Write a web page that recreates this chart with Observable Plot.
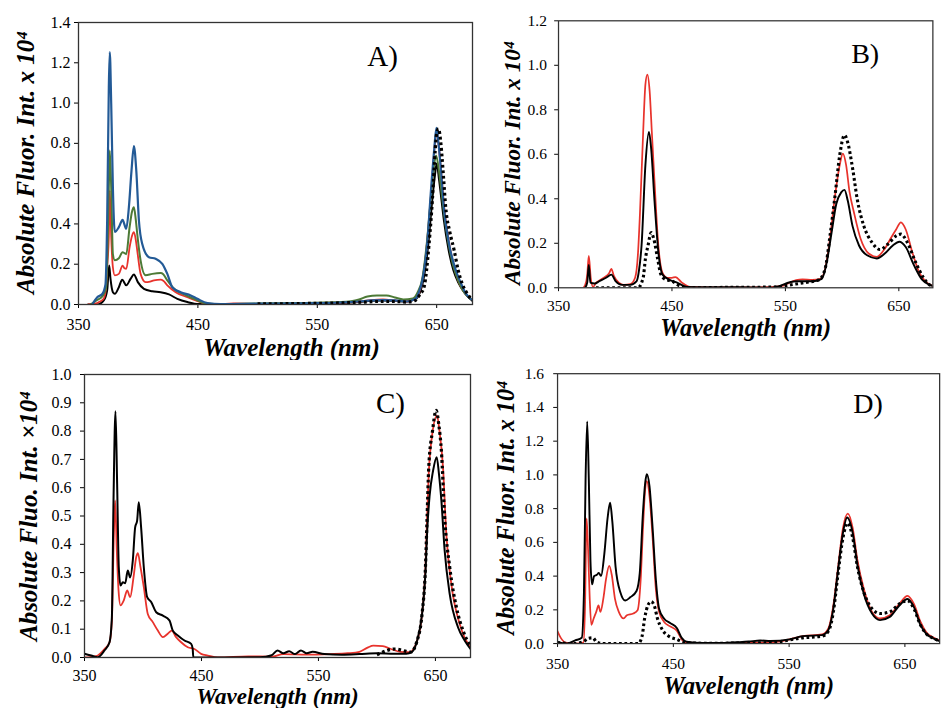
<!DOCTYPE html>
<html><head><meta charset="utf-8">
<script src="https://cdn.jsdelivr.net/npm/d3@7"></script>
<script src="https://cdn.jsdelivr.net/npm/@observablehq/plot@0.6"></script>
<style>
html,body{margin:0;padding:0;background:#fff;overflow:hidden;}
#wrap{position:relative;width:944px;height:708px;overflow:hidden;background:#fff;}
.panel{position:absolute;}
</style></head><body><div id="wrap"></div>
<script>
// ---------- tick values ----------
const xTicks = [350, 450, 550, 650];
const aYTicks = [0, 0.2, 0.4, 0.6, 0.8, 1.0, 1.2, 1.4];
const bYTicks = [0, 0.2, 0.4, 0.6, 0.8, 1.0, 1.2];
const cYTicks = [0, 0.1, 0.2, 0.3, 0.4, 0.5, 0.6, 0.7, 0.8, 0.9, 1.0];
const dYTicks = [0, 0.2, 0.4, 0.6, 0.8, 1.0, 1.2, 1.4, 1.6];

// ---------- Panel A: [wavelength nm, intensity x1e4] ----------
const aBlack = [[358,0],[365.7,0],[371.2,0.02],[374,0.07],[375.7,0.193],[376.8,0.127],[378.8,0.061],[380.4,0.053],[383.8,0.086],[386.6,0.123],[390,0.095],[393.6,0.127],[396.4,0.149],[399.7,0.111],[404.8,0.078],[411.8,0.066],[418.8,0.061],[425.8,0.05],[432.8,0.028],[441.2,0.012],[451,0.002],[470,0.003],[500,0.003],[540,0.006],[570,0.008],[585,0.012],[595,0.018],[605,0.02],[615,0.018],[625,0.015],[632,0.025],[636,0.06],[640,0.16],[643,0.3],[646,0.5],[648.5,0.64],[650,0.70],[652,0.62],[654,0.52],[656,0.42],[660,0.27],[664,0.17],[668,0.11],[672,0.07],[676,0.04],[680,0.02]];
const aRed = [[358,0],[363,0.003],[368,0.015],[371.2,0.03],[373,0.08],[374.2,0.2],[375.4,0.335],[376.2,0.566],[377.4,0.335],[378.8,0.185],[380.4,0.145],[383.8,0.152],[386.9,0.193],[388.5,0.18],[390,0.177],[392.8,0.284],[394.8,0.34],[396.4,0.359],[398,0.32],[399.2,0.268],[402,0.152],[406.2,0.111],[409,0.112],[413.2,0.12],[418.8,0.123],[421,0.118],[424.4,0.095],[431.4,0.061],[441.2,0.036],[449.6,0.017],[458,0.003],[466,0.002],[480,0.005],[500,0.003],[540,0.006],[570,0.01],[585,0.015],[595,0.022],[605,0.025],[615,0.02],[625,0.015],[632,0.03],[636,0.07],[640,0.2],[643,0.38],[646,0.6],[648.5,0.8],[650,0.86],[652,0.77],[654,0.64],[656,0.5],[660,0.32],[664,0.2],[668,0.12],[672,0.07],[676,0.04],[680,0.02]];
const aGreen = [[360,0],[365,0.02],[370,0.04],[373,0.08],[374.2,0.25],[375.4,0.58],[376.2,0.764],[377.4,0.58],[378.8,0.25],[380.4,0.22],[383.8,0.23],[386.9,0.26],[388.5,0.255],[390,0.25],[392.8,0.384],[394.8,0.46],[396.4,0.483],[398,0.42],[399.2,0.351],[402,0.219],[406.2,0.145],[411.8,0.152],[418.8,0.156],[421,0.15],[424.4,0.12],[430,0.078],[438.4,0.05],[446.8,0.028],[455.2,0.007],[463.6,0.002],[500,0.005],[540,0.008],[570,0.012],[585,0.025],[592,0.04],[600,0.045],[608,0.045],[615,0.035],[622,0.025],[630,0.03],[634,0.06],[638,0.13],[642,0.32],[645,0.52],[648,0.7],[649.5,0.74],[652,0.66],[654,0.56],[656,0.46],[660,0.3],[664,0.19],[668,0.12],[672,0.07],[676,0.04],[680,0.02]];
const aBlue = [[361.5,0],[365.7,0.036],[369.9,0.052],[372.6,0.1],[374,0.417],[375.4,1.08],[376.2,1.253],[377.4,0.996],[378.8,0.58],[380.4,0.36],[383.8,0.384],[386.9,0.42],[390,0.376],[392.2,0.483],[394.4,0.665],[396.4,0.786],[398.4,0.665],[400.6,0.417],[403.4,0.3],[409,0.235],[414.6,0.227],[420.2,0.202],[424.4,0.152],[428.6,0.086],[435.6,0.061],[444,0.045],[449.6,0.028],[458,0.007],[469,0.002],[500,0.004],[540,0.006],[570,0.01],[585,0.015],[595,0.02],[605,0.022],[615,0.02],[625,0.015],[632.5,0.03],[635,0.06],[638,0.12],[642.3,0.32],[645,0.55],[647.8,0.76],[649.8,0.877],[651.5,0.8],[653.4,0.68],[656.2,0.47],[660.4,0.3],[666,0.17],[670,0.11],[674.4,0.055],[680,0.02]];
const aDotted = [[500,0.003],[540,0.005],[570,0.008],[590,0.012],[600,0.015],[615,0.015],[625,0.012],[632,0.02],[636,0.05],[639.4,0.086],[643.6,0.3],[646.4,0.52],[648.7,0.76],[650,0.85],[651.5,0.872],[653.5,0.8],[655.5,0.65],[657.6,0.48],[661,0.36],[664.6,0.27],[668,0.17],[671.6,0.1],[676,0.05],[680,0.02]];

// ---------- Panel B ----------
const bRed = [[372,0],[374.5,0.03],[375.3,0.059],[376.7,0.143],[378.4,0.045],[380.4,0.004],[383.2,0.023],[387.5,0.037],[391.9,0.052],[394.7,0.066],[396.6,0.085],[398.9,0.052],[403.2,0.023],[407.5,0.013],[413.2,0.016],[417.5,0.045],[420,0.15],[421.8,0.335],[424.6,0.697],[426.6,0.914],[428.3,0.958],[430.3,0.886],[432.3,0.697],[434.6,0.48],[438,0.19],[441.7,0.067],[446,0.045],[450,0.045],[453.1,0.048],[458.8,0.023],[465.9,0.004],[480,0.002],[510,0.002],[536.7,0.003],[548.1,0.01],[559.5,0.035],[565.1,0.038],[573.6,0.035],[580.8,0.04],[585,0.085],[589.3,0.22],[593.6,0.407],[597.9,0.552],[600.7,0.603],[603.5,0.552],[606.4,0.436],[610.6,0.335],[616.3,0.22],[623.4,0.154],[630.5,0.139],[637.6,0.175],[643.3,0.226],[647.6,0.262],[651.8,0.294],[656.1,0.262],[661.8,0.161],[667.5,0.074],[673.2,0.03],[680,0.008]];
const bBlack = [[373.4,0],[375.3,0.023],[376.7,0.103],[378.1,0.023],[381.8,0.019],[386.1,0.03],[391.9,0.045],[396.6,0.059],[400.3,0.03],[406,0.013],[413.2,0.013],[418.9,0.03],[421,0.08],[423.2,0.19],[426.6,0.552],[429.7,0.7],[431.7,0.624],[434.6,0.393],[438,0.161],[441.7,0.059],[447.4,0.037],[454.5,0.023],[463.1,0.004],[480,0.002],[510,0.002],[536.7,0],[559.5,0.029],[573.6,0.029],[582.1,0.04],[586.4,0.113],[590.7,0.248],[594.9,0.378],[599.2,0.429],[602.1,0.44],[604.9,0.393],[609.2,0.277],[614.9,0.19],[622,0.146],[630.5,0.132],[637.6,0.154],[644.7,0.19],[650.4,0.207],[656.1,0.183],[663.2,0.103],[670.3,0.038],[676.6,0.015],[680,0.008]];
const bDotted = [[383,0],[420,0],[424.6,0.045],[426.6,0.13],[428.9,0.19],[431.7,0.248],[434,0.219],[437.4,0.13],[440.3,0.059],[444.5,0.037],[450.2,0.03],[457.4,0.007],[465.9,0],[500,0.002],[536.7,0.003],[565.1,0.022],[579.3,0.035],[585,0.085],[589.3,0.233],[593.6,0.407],[597.9,0.596],[602.1,0.686],[604.9,0.654],[609.2,0.538],[613.5,0.393],[619.2,0.277],[626.3,0.204],[633.4,0.172],[640.5,0.197],[647.6,0.233],[651.8,0.241],[657.5,0.204],[664.6,0.117],[671.7,0.045],[676.6,0.015],[680,0.008]];

// ---------- Panel C ----------
const cBlack = [[350,0.013],[355.7,0.007],[361.4,0.001],[367.1,0.025],[371.4,0.054],[373.4,0.142],[374.8,0.555],[376.5,0.87],[377.9,0.614],[379.3,0.32],[380.8,0.254],[382.8,0.266],[384.8,0.262],[387,0.307],[389,0.283],[391.3,0.343],[393.3,0.46],[395,0.484],[396.4,0.549],[398.4,0.46],[400.7,0.319],[403.6,0.213],[407,0.196],[411.3,0.16],[417,0.148],[422.6,0.131],[425.5,0.095],[429.8,0.078],[435.5,0.06],[441.2,0.048],[442.5,0.03],[443,0.001],[470,0],[500,0.001],[510,0.008],[515,0.025],[520,0.015],[525,0.022],[530,0.012],[535,0.025],[540,0.015],[545,0.02],[555,0.012],[570,0.01],[585,0.012],[600,0.015],[615,0.013],[625,0.013],[630,0.02],[634.4,0.06],[638.6,0.154],[641.5,0.3],[643,0.45],[645,0.57],[648,0.66],[651.1,0.708],[653,0.65],[655.1,0.555],[657.9,0.378],[662.2,0.225],[669.3,0.107],[675,0.06],[680,0.03]];
const cRed = [[350,0],[360,0.005],[367.1,0.03],[371.4,0.054],[373.4,0.13],[375.1,0.437],[376.2,0.555],[377.6,0.378],[379.1,0.237],[380.8,0.184],[383.6,0.202],[386.5,0.237],[389,0.213],[391.9,0.283],[394.2,0.354],[395.6,0.369],[397.9,0.319],[400.7,0.249],[404.1,0.154],[408.4,0.125],[412.7,0.095],[417,0.072],[421.2,0.084],[424.6,0.095],[428.3,0.072],[432.6,0.054],[438.3,0.036],[444,0.03],[449.7,0.013],[455.4,0.007],[464,0],[490,0.004],[510,0.003],[520,0.012],[540,0.01],[560,0.012],[575,0.015],[585,0.02],[592,0.035],[597,0.042],[605,0.04],[612,0.03],[620,0.02],[628,0.019],[634.4,0.06],[638.6,0.154],[641.5,0.32],[642.9,0.496],[644.3,0.65],[647,0.78],[651.4,0.855],[653.5,0.8],[656.5,0.672],[659.3,0.437],[663.6,0.26],[670.7,0.119],[675,0.07],[680,0.037]];
const cDotted = [[600,0.01],[615.8,0.03],[622,0.025],[628.7,0.019],[634.4,0.06],[638.6,0.154],[641.5,0.32],[642.9,0.496],[644.3,0.672],[647.5,0.8],[650.6,0.873],[653,0.82],[655.1,0.731],[657.9,0.496],[662.2,0.32],[667.9,0.178],[673.6,0.095],[680,0.04]];

// ---------- Panel D ----------
const dBlack = [[350,0.006],[358.4,0],[365.3,0.019],[370.9,0.034],[372.8,0.302],[374.2,0.972],[375.6,1.317],[377,0.972],[378.4,0.494],[379.8,0.351],[381.5,0.399],[384,0.408],[385.6,0.418],[387.6,0.402],[390.4,0.532],[393.2,0.743],[395.4,0.835],[397.3,0.724],[400.1,0.456],[404.3,0.303],[408.5,0.255],[412.7,0.274],[418.2,0.312],[421,0.418],[423.8,0.781],[425.7,0.953],[427.1,1.004],[429.4,0.934],[432.1,0.685],[434.9,0.379],[437.7,0.207],[441.9,0.149],[447.5,0.121],[453,0.092],[457.2,0.034],[461.4,0.011],[472.5,0.004],[490,0.003],[505,0.008],[515,0.012],[525,0.018],[533.8,0.015],[550.5,0.025],[561.7,0.044],[578.4,0.05],[584,0.082],[588.2,0.207],[592.3,0.436],[596.5,0.656],[600.1,0.747],[604.9,0.656],[609,0.465],[614.6,0.293],[621.6,0.178],[628.5,0.139],[636.9,0.158],[645.2,0.226],[652.2,0.264],[657.8,0.216],[663.4,0.111],[669,0.054],[675,0.03],[680,0.015]];
const dRed = [[350,0.073],[352.8,0.034],[357,0.006],[365.3,0],[372.3,0.006],[373.7,0.207],[375.1,0.743],[376.5,0.532],[377.8,0.265],[379.2,0.111],[381.2,0.149],[383.4,0.188],[385.4,0.226],[387,0.188],[389.5,0.265],[391.8,0.379],[394.6,0.46],[396.8,0.408],[399.6,0.265],[402.9,0.188],[407.1,0.149],[409.9,0.168],[415.4,0.178],[419.1,0.197],[421.8,0.379],[423.8,0.685],[425.7,0.915],[427.1,0.963],[429.4,0.876],[432.1,0.628],[434.9,0.322],[437.7,0.188],[441.9,0.13],[447.5,0.101],[453,0.077],[457.2,0.025],[461.4,0.006],[490,0.002],[510,0.004],[533.8,0.006],[550.5,0.025],[561.7,0.044],[578.4,0.054],[584,0.092],[588.2,0.226],[592.3,0.455],[596.5,0.685],[600.7,0.771],[604.9,0.685],[609,0.494],[614.6,0.322],[621.6,0.188],[628.5,0.149],[636.9,0.168],[645.2,0.235],[652.2,0.283],[657.8,0.235],[663.4,0.13],[669,0.063],[675,0.035],[680,0.018]];
const dDotted = [[350,0.006],[363.9,0],[372.3,0.011],[376.5,0.031],[380.6,0.034],[383.4,0.011],[389,0],[419.6,0],[423,0.044],[425.2,0.149],[428,0.226],[430.8,0.249],[433.5,0.226],[436.3,0.149],[440.5,0.082],[446.1,0.044],[453,0.025],[460,0.006],[480,0.002],[533.8,0.006],[561.7,0.034],[578.4,0.044],[584,0.073],[588.2,0.188],[592.3,0.417],[596.5,0.627],[600.7,0.714],[604.9,0.627],[609,0.455],[614.6,0.303],[621.6,0.207],[628.5,0.178],[636.9,0.188],[645.2,0.235],[652.2,0.255],[657.8,0.207],[663.4,0.111],[669,0.054],[675,0.03],[680,0.015]];

// ---------- colors ----------
const RED = "#e8332c", BLUE = "#235a96", GREEN = "#4d7a36", BLACK = "#000";
const SERIF = "'Liberation Serif','Times New Roman',serif";

function panel(cfg) {
  const marks = [];
  for (const s of cfg.series) {
    if (s.dotted) {
      marks.push(Plot.line(s.data, {
        x: d => d[0], y: d => d[1], stroke: s.color, clip: true,
        strokeWidth: 3.2, strokeDasharray: "2.8,2.8", strokeLinecap: "butt",
        curve: "monotone-x"
      }));
    } else {
      marks.push(Plot.line(s.data, {
        x: d => d[0], y: d => d[1], stroke: s.color, clip: true,
        strokeWidth: s.w, curve: "monotone-x"
      }));
    }
  }
  marks.push(Plot.frame({stroke: "#333", strokeWidth: 1.3}));
  marks.push(Plot.text([cfg.label], {frameAnchor: "top-right", dx: cfg.labelDx, dy: cfg.labelDy,
    fontSize: 29, fontFamily: SERIF, textAnchor: "middle", lineAnchor: "middle", fill: "#000"}));
  marks.push(Plot.text(["Wavelength (nm)"], {frameAnchor: "bottom", dx: cfg.xtDx, dy: cfg.xtDy,
    fontSize: cfg.xtSize, fontFamily: SERIF, fontWeight: "bold", fontStyle: "italic", lineAnchor: "middle", fill: "#000"}));
  marks.push(Plot.text([cfg.yTitle], {frameAnchor: "left", dx: cfg.ytDx, dy: cfg.ytDy, rotate: -90,
    fontSize: cfg.ytSize, fontFamily: SERIF, fontWeight: "bold", fontStyle: "italic", textAnchor: "middle", lineAnchor: "middle", fill: "#000"}));
  const p = Plot.plot({
    width: cfg.width, height: cfg.height,
    marginLeft: cfg.ml, marginRight: cfg.mr, marginTop: cfg.mt, marginBottom: cfg.mb,
    style: {fontFamily: SERIF, fontSize: "16px", background: "transparent", color: "#000"},
    x: {domain: [350, 680], ticks: xTicks, tickSize: 4, tickPadding: cfg.xPad, label: null, tickFormat: d => String(d)},
    y: {domain: cfg.yDomain, ticks: cfg.yTicks, tickSize: 4, tickPadding: cfg.yPad, label: null, tickFormat: d => d.toFixed(1)},
    marks
  });
  const div = document.createElement("div");
  div.className = "panel";
  div.style.left = cfg.left + "px";
  div.style.top = cfg.top + "px";
  div.appendChild(p);
  document.getElementById("wrap").appendChild(div);
}

panel({left: 0, top: 0, width: 480, height: 360, ml: 78, mr: 8, mt: 22, mb: 56,
  yDomain: [0, 1.4], yTicks: aYTicks, xPad: 10, yPad: 4,
  label: "A)", labelDx: -90, labelDy: 34, xtDx: 16, xtDy: 43, xtSize: 25,
  yTitle: "Absolute Fluor. Int. x 10\u2074", ytDx: -53, ytDy: -1, ytSize: 25,
  series: [
    {data: aBlack, color: BLACK, w: 2},
    {data: aRed, color: RED, w: 1.8},
    {data: aGreen, color: GREEN, w: 2},
    {data: aBlue, color: BLUE, w: 2.2},
    {data: aDotted, color: BLACK, dotted: true}
  ]});

panel({left: 470, top: 0, width: 490, height: 360, ml: 91, mr: 12, mt: 21, mb: 63,
  yDomain: [0, 1.2], yTicks: bYTicks, xPad: 9, yPad: 8,
  label: "B)", labelDx: -70, labelDy: 34, xtDx: 0, xtDy: 42, xtSize: 25,
  yTitle: "Absolute Fluor. Int. x 10\u2074", ytDx: -48, ytDy: 9, ytSize: 24,
  series: [
    {data: bRed, color: RED, w: 1.8},
    {data: bBlack, color: BLACK, w: 2},
    {data: bDotted, color: BLACK, dotted: true}
  ]});

panel({left: 0, top: 350, width: 480, height: 370, ml: 84, mr: 10, mt: 24, mb: 63,
  yDomain: [0, 1.0], yTicks: cYTicks, xPad: 8, yPad: 9,
  label: "C)", labelDx: -80, labelDy: 29, xtDx: 0, xtDy: 39.5, xtSize: 23,
  yTitle: "Absolute Fluo. Int. \u00d710\u2074", ytDx: -56, ytDy: 0, ytSize: 25,
  series: [
    {data: cRed, color: RED, w: 1.8},
    {data: cBlack, color: BLACK, w: 2},
    {data: cDotted, color: BLACK, dotted: true}
  ]});

panel({left: 470, top: 350, width: 490, height: 370, ml: 90, mr: 5, mt: 24, mb: 67,
  yDomain: [0, 1.6], yTicks: dYTicks, xPad: 11, yPad: 10,
  label: "D)", labelDx: -74, labelDy: 31, xtDx: 0, xtDy: 44, xtSize: 25,
  yTitle: "Absolute Fluor. Int. x 10\u2074", ytDx: -53, ytDy: -1, ytSize: 25,
  series: [
    {data: dRed, color: RED, w: 1.8},
    {data: dBlack, color: BLACK, w: 2},
    {data: dDotted, color: BLACK, dotted: true}
  ]});
</script>
</body></html>
